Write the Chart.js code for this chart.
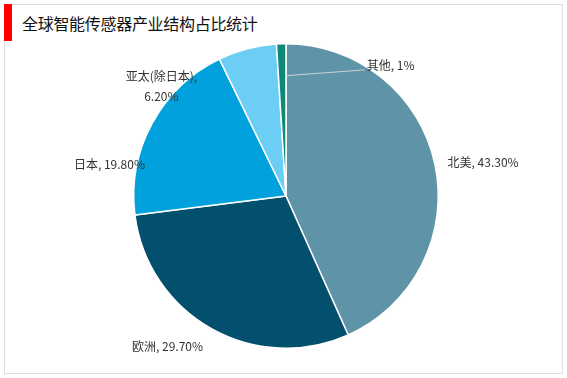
<!DOCTYPE html>
<html>
<head>
<meta charset="utf-8">
<script src="https://cdn.jsdelivr.net/npm/chart.js@4/dist/chart.umd.min.js"></script>
<style>
  html, body { margin: 0; padding: 0; background: #fff; }
  #wrap { position: relative; width: 567px; height: 378px; overflow: hidden; }
  #frame { position: absolute; left: 4px; top: 4px; width: 557px; height: 368px; border: 1px solid #dedede; box-sizing: content-box; }
  #bar { position: absolute; left: 4px; top: 4px; width: 8px; height: 37px; background: #ff0000; }
  #title { position: absolute; left: 22px; top: 12px; font-family: "Noto Sans CJK SC", sans-serif; font-size: 16px; line-height: 22px; color: #111; white-space: nowrap; letter-spacing: -0.3px; }
  canvas { position: absolute; left: 0; top: 0; }
</style>
</head>
<body>
<div id="wrap">
  <div id="frame"></div>
  <div id="bar"></div>
  <div id="title">全球智能传感器产业结构占比统计</div>
  <canvas id="c" width="567" height="378"></canvas>
</div>
<script>
// ---- data ----
const categories = ["北美", "欧洲", "日本", "亚太(除日本)", "其他"];
const shares = [43.30, 29.70, 19.80, 6.20, 1];
const valueLabels = ["43.30%", "29.70%", "19.80%", "6.20%", "1%"];
const sliceColors = ["rgb(94,147,168)", "rgb(3,80,110)", "rgb(0,161,220)", "rgb(108,206,245)", "rgb(14,137,120)"];

// label placement tweaks (offsets from the default outside anchor), kept apart from data
const labelTweaks = [
  { dx: -2, dy: 1, align: "left" },
  { dx: -1, dy: 5, align: "right" },
  { dx: 6, dy: 48, align: "right" },
  { dx: -82, dy: 52, align: "center", wrap: true },
  { dx: 86, dy: 37, align: "left", leader: true }
];

const labelPlugin = {
  id: "pieLabels",
  afterDatasetsDraw(chart) {
    const ctx = chart.ctx;
    const meta = chart.getDatasetMeta(0);
    ctx.save();
    ctx.font = '12px "Noto Sans CJK SC", sans-serif';
    ctx.fillStyle = "#333";
    ctx.textBaseline = "middle";
    meta.data.forEach((arc, i) => {
      const p = arc.getProps(["x", "y", "startAngle", "endAngle", "outerRadius"], true);
      const mid = (p.startAngle + p.endAngle) / 2;
      const r = p.outerRadius + 15;
      const ax = p.x + Math.cos(mid) * r;
      const ay = p.y + Math.sin(mid) * r;
      const t = labelTweaks[i];
      const lx = ax + t.dx, ly = ay + t.dy;
      if (t.leader) {
        const sx = p.x + Math.cos(p.endAngle) * p.outerRadius * 0.79;
        const sy = p.y + Math.sin(p.endAngle) * p.outerRadius * 0.79;
        ctx.strokeStyle = "rgba(215,215,215,0.9)";
        ctx.lineWidth = 1;
        ctx.beginPath();
        ctx.moveTo(sx, sy);
        ctx.lineTo(lx - 2, ly + 4);
        ctx.stroke();
      }
      ctx.textAlign = t.align;
      if (t.wrap) {
        ctx.fillText(categories[i] + ",", lx, ly - 10);
        ctx.fillText(valueLabels[i], lx, ly + 10);
      } else {
        ctx.fillText(categories[i] + ", " + valueLabels[i], lx, ly);
      }
    });
    ctx.restore();
  }
};

new Chart(document.getElementById("c"), {
  type: "pie",
  data: {
    labels: categories,
    datasets: [{
      data: shares,
      backgroundColor: sliceColors,
      borderColor: "#ffffff",
      borderWidth: 1.5
    }]
  },
  options: {
    responsive: false,
    animation: false,
    layout: { padding: { left: 5, right: 0, top: 43, bottom: 29 } },
    plugins: {
      legend: { display: false },
      tooltip: { enabled: false },
      title: { display: false }
    }
  },
  plugins: [labelPlugin]
});
</script>
</body>
</html>
